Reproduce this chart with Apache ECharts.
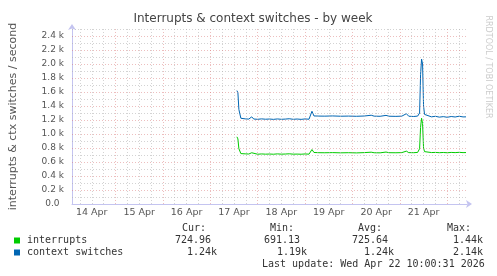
<!DOCTYPE html>
<html>
<head>
<meta charset="utf-8">
<script src="https://cdn.jsdelivr.net/npm/echarts@6/dist/echarts.min.js"></script>
<style>
  html, body { margin: 0; padding: 0; background: #ffffff; }
  #chart { width: 497px; height: 276px; }
</style>
</head>
<body>
<div id="chart"></div>
<script>
// ---- Data (hours since 15 Apr 00:00) ----
var hours = [61.5, 62, 62.5, 63.5, 64.5, 66, 67.5, 69, 70, 72, 74, 76, 78, 80, 82, 84, 86, 88, 90, 92, 94, 96, 98, 99,
  99.5, 100, 100.5, 103, 106, 110, 114, 118, 122, 126, 129.5, 131, 134, 137, 138.5, 142, 145, 147.3, 148.5, 151, 153,
  154, 154.5, 155, 155.5, 156, 156.5, 157.5, 160, 162, 164, 166, 168, 170, 172, 174, 176, 177.5];
var contextSwitches = [1620, 1590, 1350, 1225, 1212, 1215, 1213, 1245, 1214, 1210, 1216, 1211, 1214, 1209, 1215, 1210, 1213, 1218, 1210, 1214, 1209, 1215, 1211, 1212,
  1325, 1300, 1258, 1256, 1255, 1258, 1254, 1256, 1253, 1257, 1268, 1255, 1253, 1266, 1254, 1252, 1255, 1290, 1254, 1250, 1256,
  1300, 1850, 2070, 2000, 1400, 1280, 1252, 1245, 1253, 1241, 1248, 1239, 1250, 1243, 1254, 1244, 1245];
var interrupts = [960, 930, 790, 720, 712, 716, 714, 732, 713, 711, 715, 712, 714, 711, 716, 712, 714, 717, 712, 713, 711, 715, 712, 713,
  778, 762, 736, 733, 732, 734, 731, 733, 730, 734, 740, 732, 731, 742, 733, 732, 734, 755, 734, 733, 737,
  790, 1100, 1225, 1150, 800, 748, 738, 735, 737, 733, 736, 732, 737, 734, 738, 734, 735];

var dayLabelHours = [-12, 12, 36, 60, 84, 108, 132, 156];
var dayLabels = ['14 Apr', '15 Apr', '16 Apr', '17 Apr', '18 Apr', '19 Apr', '20 Apr', '21 Apr'];

var seriesNames = ['interrupts', 'context switches'];
var seriesColors = ['#00CC00', '#0066B3'];
var statHeaders = ['Cur:', 'Min:', 'Avg:', 'Max:'];
var statInterrupts = ['724.96', '691.13', '725.64', '1.44k'];
var statContext = ['1.24k', '1.19k', '1.24k', '2.14k'];
var lastUpdate = 'Last update: Wed Apr 22 10:00:31 2026';

var xMin = -22, xMax = 178, yMin = 0, yMax = 2500;

// ---- Grid line positions ----
var dayLines = [], sixHourLines = [], majorY = [], minorY = [];
for (var h = -18; h <= 174; h += 6) {
  if (h % 24 === 0) dayLines.push(h); else sixHourLines.push(h);
}
for (var v = 100; v <= 2500; v += 100) {
  if (v % 200 === 0) majorY.push(v); else minorY.push(v);
}

function pairs(xs, ys) { return xs.map(function (x, i) { return [x, ys[i]]; }); }

var RED = 'rgba(215,110,110,0.45)';
var GRAY = 'rgba(175,175,175,0.55)';
var markData = [];
sixHourLines.forEach(function (h) { markData.push({ xAxis: h, lineStyle: { color: GRAY } }); });
minorY.forEach(function (y) { markData.push({ yAxis: y, lineStyle: { color: GRAY } }); });
dayLines.forEach(function (h) { markData.push({ xAxis: h, lineStyle: { color: RED } }); });
majorY.forEach(function (y) { markData.push({ yAxis: y, lineStyle: { color: RED } }); });

var mono = '"DejaVu Sans Mono", monospace';
var sans = '"DejaVu Sans", sans-serif';
var legendColor = '#333333';

var statX = [182, 270, 358, 447];
var irqX = [175, 264, 352, 453];
var ctxX = [187, 277, 364, 453];

var graphics = [
  { type: 'text', x: 253, y: 19, style: { text: 'Interrupts & context switches - by week', font: '12px ' + sans, fill: '#444', textAlign: 'center', textVerticalAlign: 'middle' } },
  { type: 'text', x: 488, y: 67, rotation: -Math.PI / 2, style: { text: 'RRDTOOL / TOBI OETIKER', font: '8px ' + sans, fill: '#cccccc', textAlign: 'center', textVerticalAlign: 'middle' } },
  { type: 'rect', shape: { x: 14, y: 237.5, width: 6, height: 6 }, style: { fill: seriesColors[0] } },
  { type: 'rect', shape: { x: 14, y: 249.5, width: 6, height: 6 }, style: { fill: seriesColors[1] } },
  { type: 'text', x: 27, y: 240.5, style: { text: seriesNames[0], font: '10px ' + mono, fill: legendColor, textVerticalAlign: 'middle' } },
  { type: 'text', x: 27, y: 252.5, style: { text: seriesNames[1], font: '10px ' + mono, fill: legendColor, textVerticalAlign: 'middle' } },
  { type: 'text', x: 262, y: 264, style: { text: lastUpdate, font: '10px ' + mono, fill: legendColor, textVerticalAlign: 'middle' } }
];
statHeaders.forEach(function (t, i) {
  graphics.push({ type: 'text', x: statX[i], y: 228, style: { text: t, font: '10px ' + mono, fill: legendColor, textVerticalAlign: 'middle' } });
  graphics.push({ type: 'text', x: irqX[i], y: 240.5, style: { text: statInterrupts[i], font: '10px ' + mono, fill: legendColor, textVerticalAlign: 'middle' } });
  graphics.push({ type: 'text', x: ctxX[i], y: 252.5, style: { text: statContext[i], font: '10px ' + mono, fill: legendColor, textVerticalAlign: 'middle' } });
});

var AXIS_COLOR = '#c4c4f0';

var chart = echarts.init(document.getElementById('chart'), null, { renderer: 'canvas' });
chart.setOption({
  animation: false,
  backgroundColor: '#ffffff',
  grid: { left: 67, top: 29, width: 400, height: 175, containLabel: false },
  xAxis: {
    type: 'value', min: xMin, max: xMax,
    axisLine: { show: true, onZero: false, lineStyle: { color: AXIS_COLOR, width: 1 }, symbol: ['none', 'arrow'], symbolSize: [6, 6], symbolOffset: [0, 5] },
    axisTick: { show: false },
    splitLine: { show: false },
    axisLabel: {
      customValues: dayLabelHours,
      margin: 4,
      color: '#555555', fontFamily: 'DejaVu Sans', fontSize: 9.5,
      formatter: function (val) { var i = dayLabelHours.indexOf(val); return i >= 0 ? dayLabels[i] : ''; }
    }
  },
  yAxis: {
    type: 'value', min: yMin, max: yMax, interval: 200,
    name: 'interrupts & ctx switches / second', nameLocation: 'middle', nameGap: 53,
    nameTextStyle: { color: '#555555', fontFamily: 'DejaVu Sans', fontSize: 11 },
    axisLine: { show: true, onZero: false, lineStyle: { color: AXIS_COLOR, width: 1 }, symbol: ['none', 'arrow'], symbolSize: [6, 6], symbolOffset: [0, 5] },
    axisTick: { show: false },
    splitLine: { show: false },
    axisLabel: {
      margin: 8, color: '#555555', fontFamily: 'DejaVu Sans', fontSize: 9,
      formatter: function (val) {
        if (val > 2400) return '';
        if (val === 0) return '0.0\u2002';
        return (val / 1000).toFixed(1) + ' k';
      }
    }
  },
  series: [
    {
      name: 'grid', type: 'line', data: pairs(hours, interrupts), z: 1,
      lineStyle: { opacity: 0 }, showSymbol: false, silent: true,
      markLine: { silent: true, symbol: ['none', 'none'], label: { show: false }, animation: false,
        lineStyle: { type: [1, 2], width: 1 }, data: markData }
    },
    {
      name: seriesNames[0], type: 'line', data: pairs(hours, interrupts), z: 3,
      showSymbol: false, lineStyle: { color: seriesColors[0], width: 1 }, itemStyle: { color: seriesColors[0] }
    },
    {
      name: seriesNames[1], type: 'line', data: pairs(hours, contextSwitches), z: 3,
      showSymbol: false, lineStyle: { color: seriesColors[1], width: 1 }, itemStyle: { color: seriesColors[1] }
    }
  ],
  graphic: graphics
});
</script>
</body>
</html>
